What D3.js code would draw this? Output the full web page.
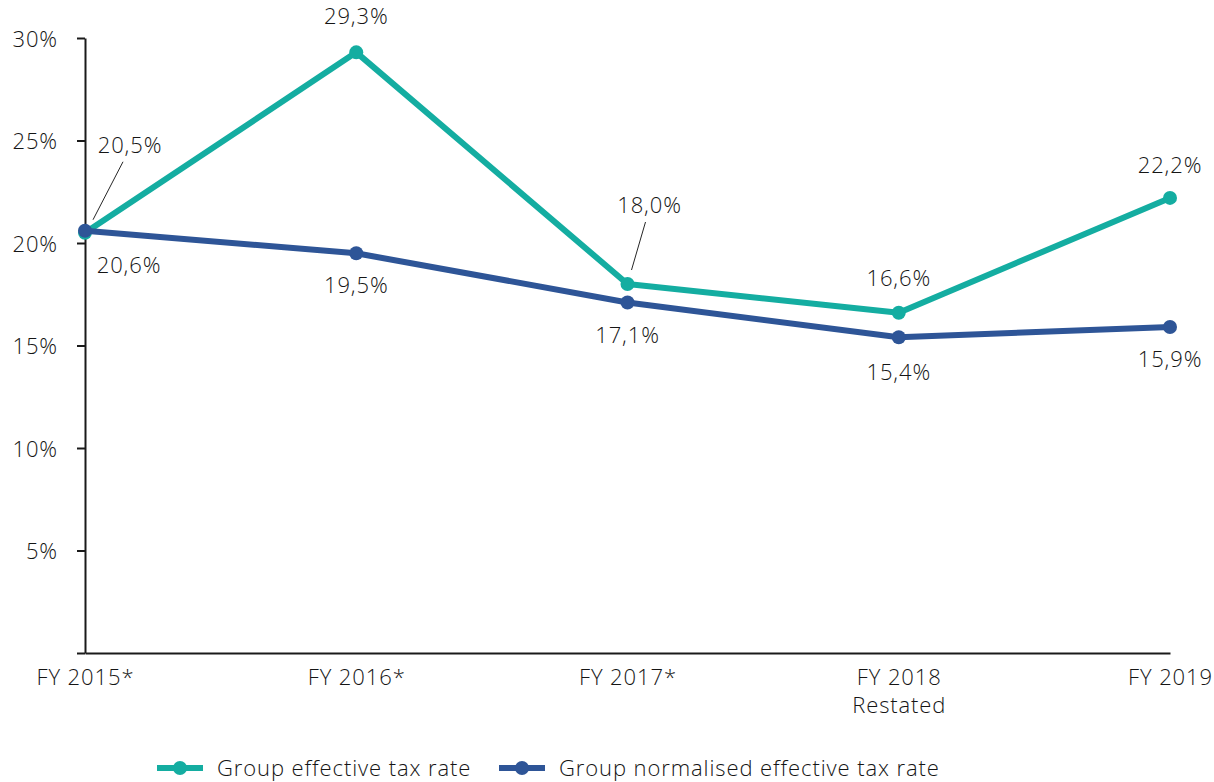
<!DOCTYPE html>
<html>
<head>
<meta charset="utf-8">
<script src="https://cdn.jsdelivr.net/npm/d3@7"></script>
<style>
  html, body { margin: 0; padding: 0; background: #fff; }
  svg text { font-family: "Open Sans", "Noto Sans", sans-serif; font-weight: 300; letter-spacing: 0.9px; fill: #151515; }
</style>
</head>
<body>
<svg id="chart" width="1214" height="782"></svg>
<script>
// Fiscal years on the category axis ("|" splits a label over two lines)
const categories = ["FY 2015*", "FY 2016*", "FY 2017*", "FY 2018|Restated", "FY 2019"];
// Rates in percent
const effectiveRate = [20.5, 29.3, 18.0, 16.6, 22.2];
const normalisedRate = [20.6, 19.5, 17.1, 15.4, 15.9];
const yTicks = [5, 10, 15, 20, 25, 30];
const seriesNames = ["Group effective tax rate", "Group normalised effective tax rate"];

const teal = "#14ADA1";
const blue = "#2E5597";
const textColor = "#151515";
const fontSize = 22;

const svg = d3.select("#chart");

const x = d3.scalePoint().domain(categories).range([85, 1170]);
const y = d3.scaleLinear().domain([0, 30]).range([653, 38]);

// Y axis with outward ticks
const yAxis = svg.append("g")
  .attr("transform", "translate(85,0)")
  .call(d3.axisLeft(y).tickValues([0].concat(yTicks)).tickSize(8).tickSizeOuter(0)
    .tickFormat(d => d === 0 ? "" : d + "%"));
yAxis.select(".domain").attr("stroke", "#1a1a1a").attr("stroke-width", 2);
yAxis.selectAll(".tick line").attr("stroke", "#1a1a1a").attr("stroke-width", 2);
yAxis.selectAll(".tick text")
  .attr("x", -27).attr("dy", "0.38em")
  .attr("font-family", null).attr("font-size", null)
  .style("font-size", fontSize + "px").attr("fill", textColor);

// X axis baseline and category labels
const xAxis = svg.append("g")
  .attr("transform", "translate(0,653)")
  .call(d3.axisBottom(x).tickSize(0).tickSizeOuter(0).tickFormat(""));
xAxis.select(".domain").attr("stroke", "#1a1a1a").attr("stroke-width", 2);
xAxis.selectAll(".tick").each(function(d) {
  const t = d3.select(this).append("text")
    .attr("text-anchor", "middle").attr("fill", textColor)
    .style("font-size", fontSize + "px");
  d.split("|").forEach((line, i) => {
    t.append("tspan").attr("x", 0).attr("y", 32 + i * 28).text(line);
  });
});

const line = d3.line().x((d, i) => x(categories[i])).y(d => y(d));

function drawSeries(values, color) {
  svg.append("path").datum(values)
    .attr("fill", "none").attr("stroke", color).attr("stroke-width", 6)
    .attr("stroke-linejoin", "round").attr("d", line);
  svg.selectAll(null).data(values).enter().append("circle")
    .attr("cx", (d, i) => x(categories[i])).attr("cy", d => y(d))
    .attr("r", 7).attr("fill", color);
}
drawSeries(effectiveRate, teal);
drawSeries(normalisedRate, blue);

const fmt = v => v.toFixed(1).replace(".", ",") + "%";

// Label offsets (dx, dy of text baseline relative to the point)
const effOffsets = [[45, -80], [0, -28], [22, -71], [0, -27], [0, -25]];
const normOffsets = [[44, 42], [0, 40], [0, 41], [0, 43], [0, 40]];

function drawLabels(values, offsets) {
  svg.selectAll(null).data(values).enter().append("text")
    .attr("x", (d, i) => x(categories[i]) + offsets[i][0])
    .attr("y", (d, i) => y(d) + offsets[i][1])
    .attr("text-anchor", "middle")
    .style("font-size", fontSize + "px")
    .text(fmt);
}
drawLabels(effectiveRate, effOffsets);
drawLabels(normalisedRate, normOffsets);

// Leader lines for labels moved away from their points
const leaders = [
  { i: 0, from: [8, -13], to: [38, -71] },
  { i: 2, from: [4, -14], to: [18, -62] }
];
leaders.forEach(l => {
  const px = x(categories[l.i]), py = y(effectiveRate[l.i]);
  svg.append("line")
    .attr("x1", px + l.from[0]).attr("y1", py + l.from[1])
    .attr("x2", px + l.to[0]).attr("y2", py + l.to[1])
    .attr("stroke", "#262626").attr("stroke-width", 1);
});

// Legend
const legend = svg.append("g").attr("transform", "translate(0,768)");
const legendItems = [
  { name: seriesNames[0], color: teal, x0: 157 },
  { name: seriesNames[1], color: blue, x0: 499 }
];
legendItems.forEach(item => {
  legend.append("line").attr("x1", item.x0).attr("x2", item.x0 + 46)
    .attr("y1", 0).attr("y2", 0).attr("stroke", item.color).attr("stroke-width", 6);
  legend.append("circle").attr("cx", item.x0 + 23).attr("cy", 0).attr("r", 7).attr("fill", item.color);
  legend.append("text").attr("x", item.x0 + 60).attr("y", 8)
    .style("font-size", fontSize + "px").text(item.name);
});
</script>
</body>
</html>
